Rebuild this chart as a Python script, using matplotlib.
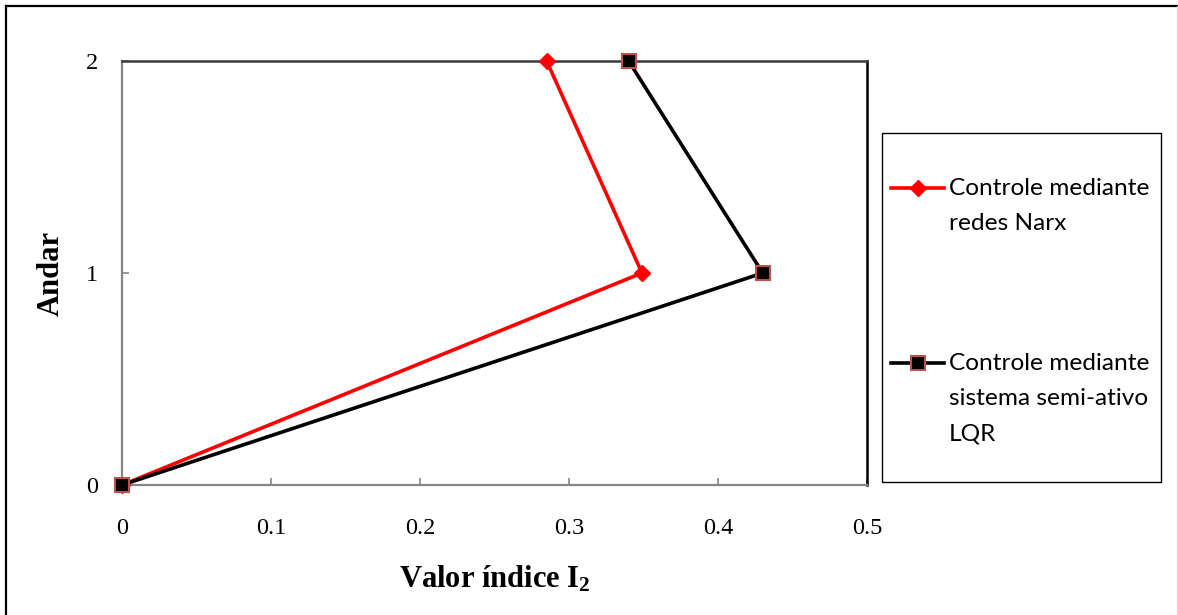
import matplotlib
matplotlib.use("Agg")
import matplotlib.pyplot as plt
from matplotlib.lines import Line2D
from matplotlib.patches import Rectangle

# Story drift index per floor
floors = [0, 1, 2]
narx_values = [0.0, 0.349, 0.285]
lqr_values = [0.0, 0.430, 0.340]

x_ticks = [0, 0.1, 0.2, 0.3, 0.4, 0.5]
x_tick_labels = ["0", "0.1", "0.2", "0.3", "0.4", "0.5"]
y_ticks = [0, 1, 2]

narx_label = "Controle mediante\nredes Narx"
lqr_label = "Controle mediante\nsistema semi-ativo\nLQR"

plt.rcParams["mathtext.fontset"] = "custom"
plt.rcParams["mathtext.rm"] = "Liberation Serif"
plt.rcParams["mathtext.bf"] = "Liberation Serif:bold"

W, H = 1178, 615
fig = plt.figure(figsize=(W / 100, H / 100), dpi=100)
fig.patch.set_facecolor("white")

# frame around the whole chart area
fig.add_artist(Line2D([6 / W, 6 / W], [0, 1 - 6 / H], transform=fig.transFigure,
                      color="black", lw=1.6))
fig.add_artist(Line2D([6 / W, 1], [1 - 6 / H, 1 - 6 / H], transform=fig.transFigure,
                      color="black", lw=1.6))
fig.add_artist(Line2D([1176.5 / W, 1176.5 / W], [0, 1 - 6 / H], transform=fig.transFigure,
                      color="#d9d9d9", lw=0.8))

ax = fig.add_axes([122 / W, (H - 485) / H, (867 - 122) / W, (485 - 61) / H])

red_line, = ax.plot(narx_values, floors, color="#ff0000", lw=2.6, marker="D",
                    markersize=8.5, markerfacecolor="#ff0000", markeredgecolor="#ff0000",
                    zorder=3, clip_on=False)
black_line, = ax.plot(lqr_values, floors, color="black", lw=2.6, marker="s",
                      markersize=10, markerfacecolor="black", markeredgecolor="#c0504d",
                      markeredgewidth=1.5, zorder=4, clip_on=False)

ax.set_xlim(0, 0.5)
ax.set_ylim(0, 2)
ax.set_xticks(x_ticks)
ax.set_xticklabels(x_tick_labels)
ax.set_yticks(y_ticks)

for side in ("left", "bottom"):
    ax.spines[side].set_color("#868686")
    ax.spines[side].set_linewidth(1.6)
ax.spines["top"].set_color("#3a3a3a")
ax.spines["top"].set_linewidth(1.8)
ax.spines["right"].set_color("black")
ax.spines["right"].set_linewidth(1.8)

ax.tick_params(axis="both", direction="in", length=5, width=1.2, color="#868686",
               labelsize=17.5)
ax.tick_params(axis="x", pad=24)
ax.tick_params(axis="y", pad=17)
for lab in ax.get_xticklabels() + ax.get_yticklabels():
    lab.set_fontfamily("Liberation Serif")

ax.set_xlabel(r"Valor índice $\mathbf{I_2}$", fontfamily="Liberation Serif",
              fontweight="bold", fontsize=22, labelpad=18)
ax.set_ylabel("Andar", fontfamily="Liberation Serif", fontweight="bold",
              fontsize=22, labelpad=15)

# legend box
fig.add_artist(Rectangle((882 / W, (H - 482) / H), (1161 - 882) / W, (482 - 133) / H,
                         transform=fig.transFigure, facecolor="white",
                         edgecolor="black", lw=1.0))

def legend_entry(handle, y_px, label):
    xs = [891 / W, 944 / W]
    ys = [(H - y_px) / H] * 2
    fig.add_artist(Line2D(xs, ys, transform=fig.transFigure,
                          color=handle.get_color(), lw=handle.get_linewidth()))
    fig.add_artist(Line2D([917.5 / W], [(H - y_px) / H], transform=fig.transFigure,
                          marker=handle.get_marker(),
                          markersize=handle.get_markersize(),
                          markerfacecolor=handle.get_markerfacecolor(),
                          markeredgecolor=handle.get_markeredgecolor(),
                          markeredgewidth=handle.get_markeredgewidth(),
                          linestyle="none"))
    fig.text(949 / W, (H - y_px + 10) / H, label, fontfamily="Lato", fontsize=17.6,
             va="top", ha="left", linespacing=1.85)

legend_entry(red_line, 188, narx_label)
legend_entry(black_line, 363, lqr_label)

fig.savefig("out.png", dpi=100)
